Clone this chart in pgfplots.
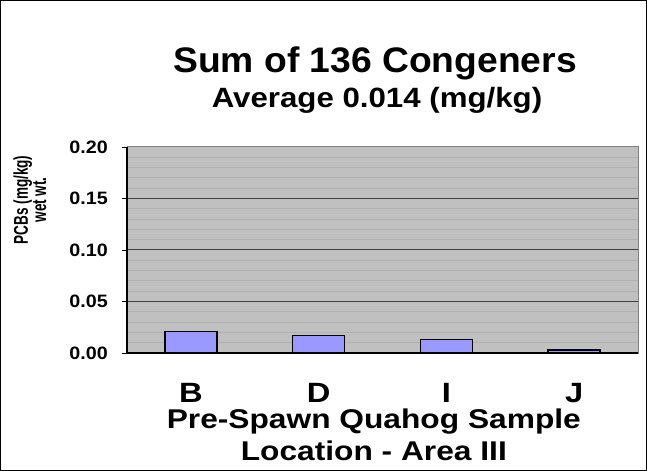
\documentclass[border=0pt]{standalone}
\usepackage{fontspec}
\setmainfont{Liberation Sans}
\newfontfamily\fA{Liberation Sans}[FakeStretch=1.05]
\newfontfamily\fB{Liberation Sans}[FakeStretch=1.12]
\newfontfamily\fC{Liberation Sans}[FakeStretch=1.17]
\newfontfamily\fD{Liberation Sans}[FakeStretch=1.1]
\newfontfamily\fE{Liberation Sans}[FakeStretch=0.68]
\usepackage{pgfplots}
\pgfplotsset{compat=1.18}
\definecolor{plotbg}{RGB}{192,192,192}
\definecolor{gridminor}{RGB}{176,176,176}
\definecolor{gridmajor}{RGB}{64,64,64}
\definecolor{barfill}{RGB}{153,153,255}
\begin{document}
\begin{tikzpicture}
\useasboundingbox (0,0) rectangle (647bp,471bp);
\draw[black, line width=1bp] (0.5bp,0.5bp) rectangle (646.5bp,470.5bp);
\begin{axis}[
  at={(127bp,118bp)}, anchor=south west,
  scale only axis, width=511bp, height=206bp,
  xmin=-0.5, xmax=3.5, ymin=0, ymax=0.2,
  axis background/.style={fill=plotbg},
  axis line style={draw=gray, line width=1bp},
  ybar, bar width=52bp,
  xtick={0,1,2,3}, xticklabels={B,D,I,J},
  xtick style={draw=none},
  minor xtick={0.5,1.5,2.5},
  minor tick length=6bp, major tick length=5bp,
  tick align=outside, xtick pos=bottom, ytick pos=left,
  ytick={0,0.05,0.1,0.15,0.2},
  ytick style={black, line width=0.8bp},
  minor x tick style={black, line width=0.8bp},
  ymajorgrids,
  major grid style={color=gridmajor, line width=1bp},
  extra y ticks={0.01,0.02,0.03,0.04,0.06,0.07,0.08,0.09,0.11,0.12,0.13,0.14,0.16,0.17,0.18,0.19},
  extra y tick labels={},
  extra y tick style={major tick length=0pt, major grid style={color=gridminor, line width=1bp}},
  yticklabel style={font=\fD\bfseries\fontsize{18}{18}\selectfont, anchor=east, inner sep=0pt, xshift=-14bp,
    /pgf/number format/.cd, fixed, fixed zerofill, precision=2, assume math mode=true},
  xticklabel style={font=\fC\bfseries\fontsize{28}{28}\selectfont, anchor=north, inner sep=0pt, yshift=-25bp},
  xlabel={Pre-Spawn Quahog Sample\\Location - Area III},
  xlabel style={font=\fC\bfseries\fontsize{27.2}{32}\selectfont, align=center, inner sep=0pt,
    at={(axis description cs:0.483,0)}, anchor=north, yshift=-56bp},
  ylabel={PCBs (mg/kg)\\wet wt.},
  ylabel style={font=\fE\bfseries\fontsize{20}{14}\selectfont, align=center, inner sep=0pt,
    at={(axis description cs:-0.19,0.743)}, anchor=center},
  after end axis/.code={\draw[black, line width=1.6bp] (rel axis cs:0,1) -- (rel axis cs:0,0) -- (rel axis cs:1,0);},
]
\addplot[fill=barfill, draw=black, line width=1.6bp] coordinates {(0,0.021) (1,0.017) (2,0.013) (3,0.003)};
\end{axis}
\node[anchor=base, font=\fA\bfseries\fontsize{35.6}{40}\selectfont, inner sep=0pt] at (375bp,398bp) {Sum of 136 Congeners};
\node[anchor=base, font=\fB\bfseries\fontsize{28}{32}\selectfont, inner sep=0pt] at (377bp,363bp) {Average 0.014 (mg/kg)};
\end{tikzpicture}
\end{document}
